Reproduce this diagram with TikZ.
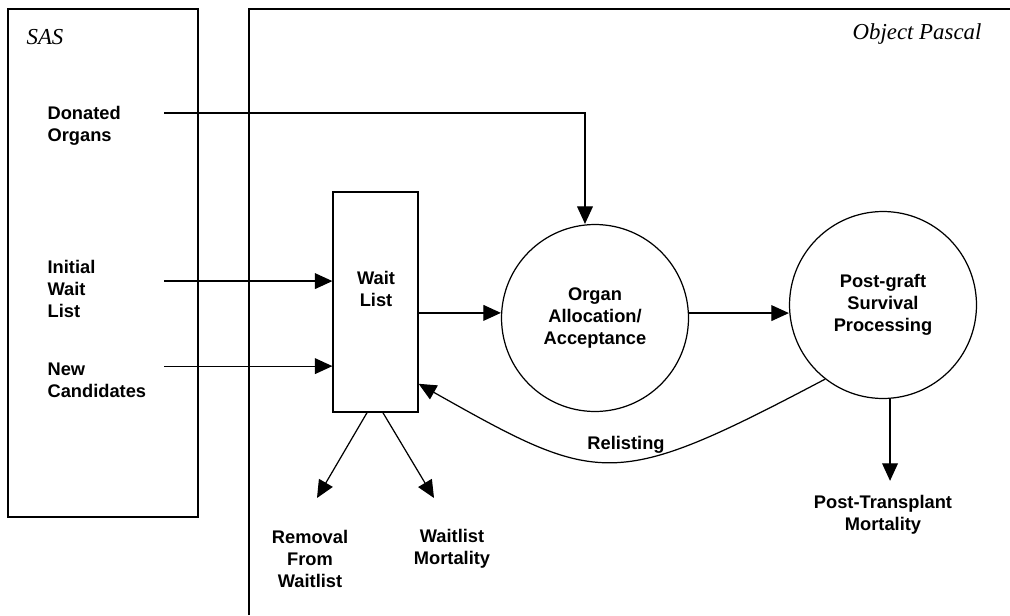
\documentclass[tikz,border=0pt]{standalone}
\usepackage{fontspec}
\setmainfont{Liberation Sans}
\newfontfamily\langfont{Liberation Serif}
\usetikzlibrary{arrows.meta}

\begin{document}
\begin{tikzpicture}[x=0.02cm, y=-0.02cm, line width=0.7pt,
    lbl/.style={font=\fontsize{10.4}{12.5}\selectfont\bfseries, align=center, inner sep=0pt},
    src/.style={lbl, align=left, text width=2.32cm, anchor=west},
    lang/.style={font=\fontsize{13}{15}\selectfont\langfont\itshape, inner sep=0pt},
    proc/.style={draw, circle, minimum size=3.74cm, lbl},
    arr/.style={-{Triangle[length=10pt,width=9pt]}}]
  \useasboundingbox (0,0) rectangle (1010,615);
  \begin{scope}
    \draw (8,9) rectangle (198,517);
    \draw (249,615) -- (249,9) -- (1010,9);
    \node[lang, anchor=west] (sas) at (26,37) {SAS};
    \node[lang, anchor=east] (pascal) at (982,34) {Object Pascal};
  \end{scope}
  \begin{scope}
    \node[src] (don) at (47,126) {Donated\\Organs};
    \node[src] (ini) at (47,289) {Initial\\Wait\\List};
    \node[src] (newc) at (47,380) {New\\Candidates};
    \node[draw, minimum width=1.7cm, minimum height=4.4cm] (wl) at (375.5,302) {};
    \node[lbl] (wltxt) at (376,289) {Wait\\List};
    \node[proc] (org) at (595,318) {Organ\\Allocation/\\Acceptance};
    \node[proc] (post) at (883,305) {Post-graft\\Survival\\Processing};
    \node[lbl] (rem) at (310,559) {Removal\\From\\Waitlist};
    \node[lbl] (wlm) at (452,549) {Waitlist\\Mortality};
    \node[lbl] (rel) at (626,445) {Relisting};
    \node[lbl] (ptm) at (883,515) {Post-Transplant\\Mortality};
  \end{scope}
  \coordinate (don-out) at ([yshift=7.4pt]don.east);
  \coordinate (ini-out) at ([yshift=4.5pt]ini.east);
  \coordinate (new-out) at ([yshift=7.9pt]newc.east);
  \coordinate (wl-out) at ([yshift=-6.2pt]wl.east);
  \coordinate (org-out) at ([yshift=2.8pt]org.east);
  \coordinate (post-out) at ([xshift=4pt]post.south);
  \coordinate (rem-tip) at (317,498);
  \coordinate (wlm-tip) at (434,498);
  \draw[arr] (don-out) -| ([xshift=-5.7pt]org.north);
  \draw[arr] (ini-out) -- (ini-out -| wl.west);
  \draw[arr] (new-out) -- (new-out -| wl.west);
  \draw[arr] (wl-out) -- (wl-out -| org.west);
  \draw[arr] (org-out) -- (org-out -| post.west);
  \draw[arr, shorten >=8pt] (post-out) -- (post-out |- ptm.north);
  \draw[arr] ([xshift=-4.8pt]wl.south) -- (rem-tip);
  \draw[arr] ([xshift=4.2pt]wl.south) -- (wlm-tip);
  \draw[arr] (post.-128) .. controls (613,491) and (600,486) .. ([yshift=16.4pt]wl.south east);
\end{tikzpicture}
\end{document}
